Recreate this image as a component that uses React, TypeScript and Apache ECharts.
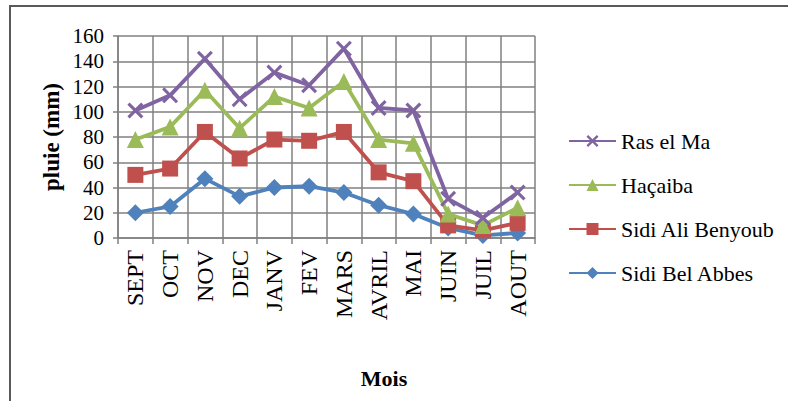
import React, { useEffect, useRef } from "react";
import * as echarts from "echarts";

const months = ["SEPT", "OCT", "NOV", "DEC", "JANV", "FEV", "MARS", "AVRIL", "MAI", "JUIN", "JUIL", "AOUT"];
const rasElMa = [101, 113, 142, 110, 131, 121, 150, 103, 101, 31, 16, 36];
const hacaiba = [78, 88, 117, 87, 112, 103, 124, 78, 75, 19, 10, 24];
const sidiAli = [50, 55, 84, 63, 78, 77, 84, 52, 45, 10, 6, 12];
const sidiBel = [20, 25, 47, 33, 40, 41, 36, 26, 19, 8, 2, 4];
const yTicks = { min: 0, max: 160, interval: 20 };

const FONT = "Liberation Serif";
const X_PATH =
  "path://M0,2.2L2.2,0L8,5.8L13.8,0L16,2.2L10.2,8L16,13.8L13.8,16L8,10.2L2.2,16L0,13.8L5.8,8Z";

export default function App() {
  const ref = useRef<HTMLDivElement>(null);
  useEffect(() => {
    document.body.style.margin = "0";
    const chart = echarts.init(ref.current!, null, { renderer: "svg" });
    const mk = (name: string, data: number[], color: string, symbol: string, size: number, z: number) => ({
      name,
      type: "line",
      data,
      z,
      symbol,
      symbolSize: size,
      lineStyle: { color, width: 3.8 },
      itemStyle: { color },
      emphasis: { disabled: true },
    });
    chart.setOption({
      animation: false,
      backgroundColor: "#ffffff",
      textStyle: { fontFamily: FONT },
      grid: { left: 118, right: 253, top: 36, bottom: 163, containLabel: false },
      legend: {
        orient: "vertical",
        left: 568,
        top: 130,
        padding: 0,
        itemWidth: 47,
        itemHeight: 15,
        itemGap: 22,
        data: ["Ras el Ma", "Haçaiba", "Sidi Ali Benyoub", "Sidi Bel Abbes"],
        textStyle: { fontFamily: FONT, fontSize: 22, color: "#000", lineHeight: 22 },
      },
      xAxis: {
        type: "category",
        data: months,
        boundaryGap: true,
        axisLine: { lineStyle: { color: "#808080", width: 1.5 } },
        axisTick: { show: true, length: 6, inside: false, lineStyle: { color: "#808080", width: 1.5 } },
        splitLine: { show: true, lineStyle: { color: "#808080", width: 1.5 } },
        axisLabel: {
          rotate: 90,
          interval: 0,
          margin: 12,
          fontFamily: FONT,
          fontSize: 24,
          color: "#000",
        },
      },
      yAxis: {
        type: "value",
        min: yTicks.min,
        max: yTicks.max,
        interval: yTicks.interval,
        name: "pluie (mm)",
        nameLocation: "middle",
        nameGap: 55,
        nameMoveOverlap: false,
        nameRotate: 90,
        nameTextStyle: { fontFamily: FONT, fontSize: 23, fontWeight: "bold", color: "#000" },
        axisLine: { show: true, lineStyle: { color: "#808080", width: 1.5 } },
        axisTick: { show: true, length: 5, lineStyle: { color: "#808080", width: 1.5 } },
        splitLine: { show: true, lineStyle: { color: "#808080", width: 1.5 } },
        axisLabel: { margin: 14, fontFamily: FONT, fontSize: 21, color: "#000" },
      },
      graphic: [
        {
          type: "rect",
          shape: { x: 10, y: 6, width: 800, height: 420 },
          style: { fill: "none", stroke: "#595959", lineWidth: 2 },
          silent: true,
        },
        {
          type: "text",
          x: 384,
          y: 378,
          style: {
            text: "Mois",
            font: `bold 22px "${FONT}"`,
            fill: "#000",
            align: "center",
            verticalAlign: "middle",
          },
        },
      ],
      series: [
        mk("Sidi Bel Abbes", sidiBel, "#4F81BD", "diamond", 17, 2),
        mk("Sidi Ali Benyoub", sidiAli, "#C0504D", "rect", 16, 3),
        mk("Haçaiba", hacaiba, "#9BBB59", "triangle", 17, 4),
        mk("Ras el Ma", rasElMa, "#8064A2", X_PATH, 16, 5),
      ],
    });
    return () => chart.dispose();
  }, []);
  return <div ref={ref} style={{ width: 788, height: 401 }} />;
}
